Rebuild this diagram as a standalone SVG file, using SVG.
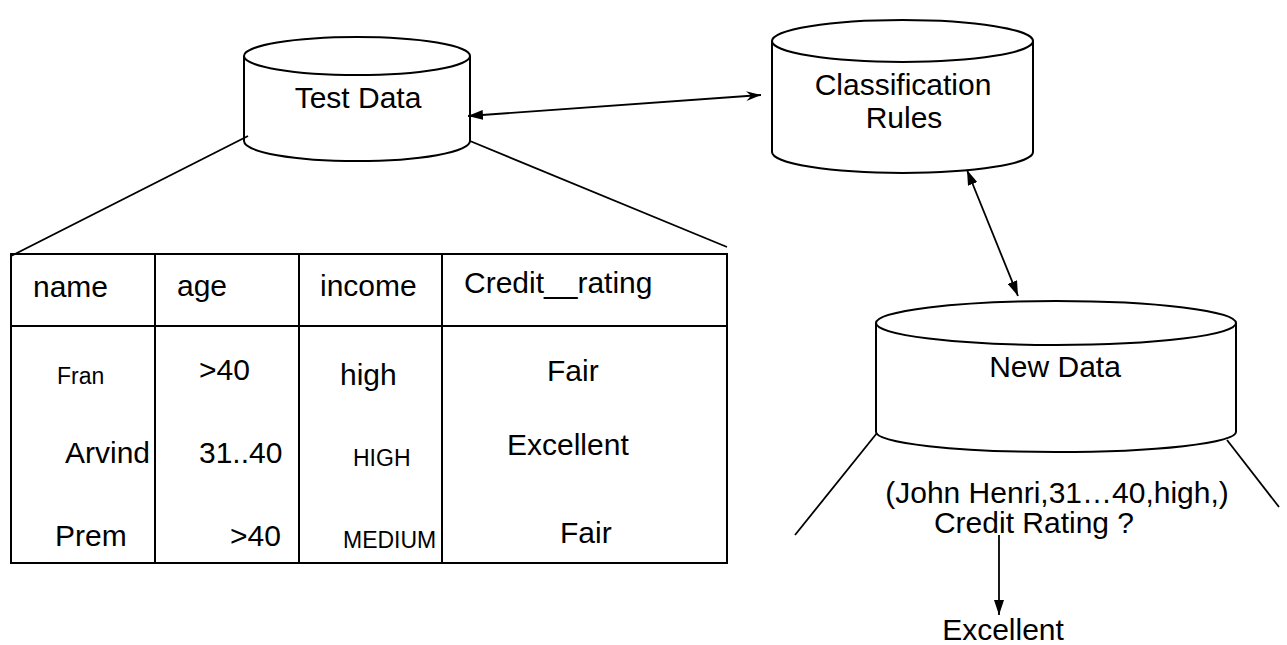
<svg xmlns="http://www.w3.org/2000/svg" width="1287" height="645" viewBox="0 0 1287 645">
  <style>
    .shape { fill: none; stroke: #000; stroke-width: 2; }
    .line { fill: none; stroke: #000; stroke-width: 1.8; }
    .txt { font-family: "Liberation Sans", Arial, sans-serif; fill: #000; }
    .lg { font-size: 30px; }
    .sm { font-size: 23px; }
    .mid { text-anchor: middle; }
  </style>
  <defs>
    <marker id="head" viewBox="0 0 15 10" refX="15" refY="5" markerWidth="15" markerHeight="10" markerUnits="userSpaceOnUse" orient="auto-start-reverse">
      <path d="M0,0 L15,5 L0,10 Z" fill="#000"/>
    </marker>
    <marker id="barb" viewBox="0 0 15 10" refX="15" refY="5" markerWidth="15" markerHeight="10" markerUnits="userSpaceOnUse" orient="auto">
      <path d="M0,0 L15,5 L0,10 L5,5 Z" fill="#000"/>
    </marker>
  </defs>
  <rect width="1287" height="645" fill="#fff"/>

  <!-- Test Data store -->
  <g id="test-data">
    <path class="shape" d="M244,56 A113,19 0 0 1 470,56 A113,19 0 0 1 244,56 Z"/>
    <path class="shape" d="M244,56 L244,141 A113,20 0 0 0 470,141 L470,56"/>
    <text class="txt lg mid" x="358" y="108">Test Data</text>
  </g>

  <!-- Classification Rules store -->
  <g id="classification-rules">
    <path class="shape" d="M772,41 A130.5,21 0 0 1 1033,41 A130.5,21 0 0 1 772,41 Z"/>
    <path class="shape" d="M772,41 L772,152 A130.5,21 0 0 0 1033,152 L1033,41"/>
    <text class="txt lg mid" x="903" y="95">Classification</text>
    <text class="txt lg mid" x="904" y="128">Rules</text>
  </g>

  <!-- New Data store -->
  <g id="new-data">
    <path class="shape" d="M876,323 A180,22 0 0 1 1236,323 A180,22 0 0 1 876,323 Z"/>
    <path class="shape" d="M876,323 L876,432 A180,20 0 0 0 1236,432 L1236,323"/>
    <text class="txt lg mid" x="1055" y="377">New Data</text>
  </g>

  <!-- Test Data records table -->
  <g id="records-table">
    <rect class="shape" x="11" y="254" width="716" height="309"/>
    <line class="shape" x1="11" y1="326" x2="727" y2="326"/>
    <line class="shape" x1="155" y1="254" x2="155" y2="563"/>
    <line class="shape" x1="299" y1="254" x2="299" y2="563"/>
    <line class="shape" x1="442" y1="254" x2="442" y2="563"/>
    <text class="txt lg" x="33" y="297">name</text>
    <text class="txt lg" x="177" y="296">age</text>
    <text class="txt lg" x="320" y="296">income</text>
    <text class="txt lg" x="464" y="293">Credit__rating</text>
    <text class="txt sm" x="57" y="384">Fran</text>
    <text class="txt lg" x="199" y="380">&gt;40</text>
    <text class="txt lg" x="340" y="385">high</text>
    <text class="txt lg" x="547" y="381">Fair</text>
    <text class="txt lg" x="65" y="463">Arvind</text>
    <text class="txt lg" x="199" y="463">31..40</text>
    <text class="txt sm" x="353" y="466">HIGH</text>
    <text class="txt lg" x="507" y="455">Excellent</text>
    <text class="txt lg" x="55" y="546">Prem</text>
    <text class="txt lg" x="230" y="546">&gt;40</text>
    <text class="txt sm" x="343" y="548">MEDIUM</text>
    <text class="txt lg" x="560" y="543">Fair</text>
  </g>

  <!-- New record query -->
  <g id="query">
    <text class="txt lg mid" x="1057" y="503">(John Henri,31…40,high,)</text>
    <text class="txt lg mid" x="1034" y="533">Credit Rating ?</text>
  </g>
  <g id="result">
    <text class="txt lg mid" x="1003" y="640">Excellent</text>
  </g>

  <!-- Connectors -->
  <g id="connectors">
    <line class="line" x1="248" y1="136" x2="11" y2="256"/>
    <line class="line" x1="470" y1="141" x2="727" y2="247"/>
    <line class="line" x1="877" y1="433" x2="795" y2="535"/>
    <line class="line" x1="1227" y1="440" x2="1279" y2="507"/>
    <line class="line" x1="468" y1="116" x2="761" y2="95" marker-start="url(#head)" marker-end="url(#barb)"/>
    <line class="line" x1="967" y1="170" x2="1018" y2="296" marker-start="url(#head)" marker-end="url(#head)"/>
    <line class="line" x1="999" y1="535" x2="999" y2="615" marker-end="url(#head)"/>
  </g>
</svg>
